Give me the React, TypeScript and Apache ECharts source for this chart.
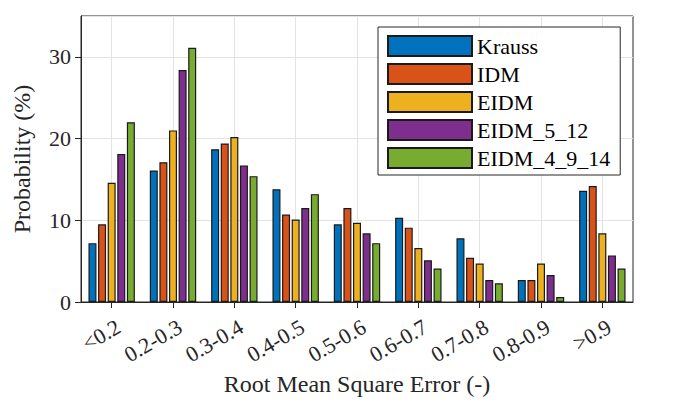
import React, { useEffect, useRef } from "react";
import * as echarts from "echarts";

const categories = ["<0.2", "0.2-0.3", "0.3-0.4", "0.4-0.5", "0.5-0.6", "0.6-0.7", "0.7-0.8", "0.8-0.9", ">0.9"];
const seriesNames = ["Krauss", "IDM", "EIDM", "EIDM_5_12", "EIDM_4_9_14"];
const krauss = [7.2, 16.1, 18.7, 13.8, 9.5, 10.3, 7.8, 2.7, 13.6];
const idm = [9.5, 17.1, 19.4, 10.7, 11.5, 9.1, 5.4, 2.7, 14.2];
const eidm = [14.6, 21.0, 20.2, 10.1, 9.7, 6.6, 4.7, 4.7, 8.4];
const eidm512 = [18.1, 28.4, 16.7, 11.5, 8.4, 5.1, 2.7, 3.3, 5.7];
const eidm4914 = [22.0, 31.1, 15.4, 13.2, 7.2, 4.1, 2.3, 0.6, 4.1];
const seriesData = [krauss, idm, eidm, eidm512, eidm4914];
const colors = ["#0072BD", "#D95319", "#EDB120", "#7E2F8E", "#77AC30"];
const yTicks = { min: 0, max: 35, interval: 10 };

const FONT = "'Liberation Serif', 'Times New Roman', serif";
const INK = "#262626";

export default function App() {
  const ref = useRef<HTMLDivElement>(null);
  useEffect(() => {
    document.body.style.margin = "0";
    if (!ref.current) return;
    const chart = echarts.init(ref.current, undefined, { renderer: "svg" });
    chart.setOption({
      animation: false,
      textStyle: { fontFamily: FONT },
      grid: {
        left: 81,
        top: 16,
        right: 67,
        bottom: 109,
        show: true,
        borderColor: INK,
        borderWidth: 1,
        backgroundColor: "transparent",
      },
      legend: {
        orient: "vertical",
        left: 378,
        top: 27,
        itemWidth: 84,
        itemHeight: 20,
        itemGap: 6,
        padding: [8, 10, 6, 9],
        backgroundColor: "#fff",
        borderColor: INK,
        borderWidth: 1,
        borderRadius: 0,
        icon: "rect",
        textStyle: { fontFamily: FONT, fontSize: 22, color: "#000" },
        data: seriesNames,
      },
      xAxis: {
        type: "category",
        data: categories,
        name: "Root Mean Square Error (-)",
        nameLocation: "middle",
        nameGap: 61,
        nameTextStyle: { fontFamily: FONT, fontSize: 24, color: INK },
        axisLine: { show: true, lineStyle: { color: INK, width: 1 } },
        axisTick: { show: true, alignWithLabel: true, length: 6, lineStyle: { color: INK } },
        axisLabel: {
          rotate: 30,
          margin: 27,
          padding: [0, -8, 0, 0],
          fontFamily: FONT,
          fontSize: 22,
          color: INK,
        },
        splitLine: { show: true, alignWithLabel: true, lineStyle: { color: "#e3e3e3", width: 1 } },
      },
      yAxis: {
        type: "value",
        min: yTicks.min,
        max: yTicks.max,
        interval: yTicks.interval,
        name: "Probability (%)",
        nameLocation: "middle",
        nameGap: 47,
        nameTextStyle: { fontFamily: FONT, fontSize: 24, color: INK },
        axisLine: { show: true, lineStyle: { color: INK, width: 1 } },
        axisTick: { show: true, length: 6, lineStyle: { color: INK } },
        axisLabel: { margin: 10, fontFamily: FONT, fontSize: 22, color: INK, showMaxLabel: false },
        splitLine: { show: true, lineStyle: { color: "#e3e3e3", width: 1 } },
      },
      series: seriesNames.map((name, i) => ({
        name,
        type: "bar",
        data: seriesData[i],
        barWidth: 8,
        barGap: "20%",
        itemStyle: { color: colors[i], borderColor: "#1a1a1a", borderWidth: 1.2 },
      })),
    });
    return () => chart.dispose();
  }, []);
  return <div ref={ref} style={{ width: 700, height: 411 }} />;
}
